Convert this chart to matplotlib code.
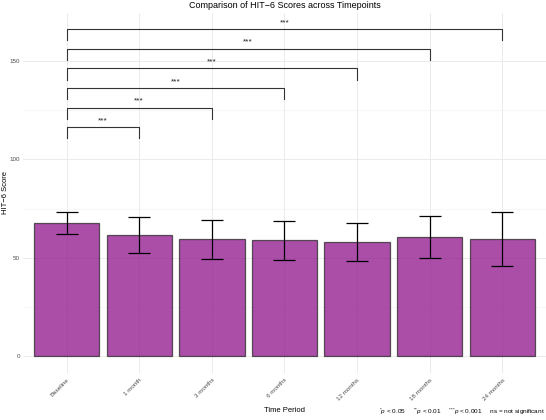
import matplotlib
matplotlib.use('Agg')
import matplotlib.pyplot as plt
import numpy as np

plt.rcParams['font.family'] = ['Liberation Sans', 'DejaVu Sans']
plt.rcParams['mathtext.fontset'] = 'custom'
plt.rcParams['mathtext.rm'] = 'Liberation Sans'
plt.rcParams['mathtext.it'] = 'Liberation Sans:italic'

periods = ['Baseline', '1 month', '3 months', '6 months', '12 months', '18 months', '24 months']
means = [67.7, 61.6, 59.5, 59.0, 58.2, 60.6, 59.4]
sds = [5.8, 9.3, 9.9, 9.9, 9.7, 10.7, 13.7]

# significance brackets: baseline vs each later timepoint
comp_to = [1, 2, 3, 4, 5, 6]
bracket_y = [116.4, 126.2, 136.2, 146.2, 156.1, 166.1]
labels = ['***'] * 6

fig = plt.figure(figsize=(5.46, 4.2), dpi=100)
ax = fig.add_axes([0.0421, 0.1119, 0.9579, 0.858])

x = np.arange(len(periods))
ax.bar(x, means, width=0.9, color='#8B0A86', alpha=0.72, edgecolor='#222222', linewidth=0.9, zorder=2)
ax.errorbar(x, means, yerr=sds, fmt='none', ecolor='black', elinewidth=0.9, capsize=7.8, capthick=0.9, zorder=3)

for j, yb, lab in zip(comp_to, bracket_y, labels):
    ax.plot([0, 0, j, j], [yb - 5.7, yb, yb, yb - 5.7], color='#333333', lw=0.8, zorder=3)
    ax.text(j / 2, yb + 1.6, lab, ha='center', va='bottom', fontsize=6, color='#222222')

ax.set_xlim(-0.6, 6.6)
ax.set_ylim(-8.5, 174.5)
ax.set_yticks([0, 50, 100, 150])
ax.set_yticks([25, 75, 125], minor=True)
ax.set_xticks(x)
ax.set_xticklabels(periods, rotation=45, ha='right', rotation_mode='anchor', fontsize=4.5, color='#4d4d4d')
ax.tick_params(axis='y', labelsize=4.5, labelcolor='#4d4d4d', length=0, pad=2.2)
ax.tick_params(axis='y', which='minor', length=0)
ax.tick_params(axis='x', length=0, pad=3)
ax.grid(True, which='major', color='#e8e8e8', lw=0.6, zorder=0)
ax.grid(True, which='minor', axis='y', color='#f2f2f2', lw=0.4, zorder=0)
ax.set_axisbelow(True)
for s in ax.spines.values():
    s.set_visible(False)

ax.set_title('Comparison of HIT\u22126 Scores across Timepoints', fontsize=6.5, pad=3)
ax.set_ylabel('HIT\u22126 Score', fontsize=5.5, va='center')
ax.yaxis.set_label_coords(-0.034, 0.5)
ax.set_xlabel('Time Period', fontsize=5.5, labelpad=4)

fig.text(0.997, 0.008,
         r'$^{{*}}\mathit{p}$ < 0.05     $^{{*}{*}}\mathit{p}$ < 0.01     $^{{*}{*}{*}}\mathit{p}$ < 0.001     ns = not significant',
         ha='right', va='bottom', fontsize=4.6)

fig.savefig('out.png', dpi=100)
